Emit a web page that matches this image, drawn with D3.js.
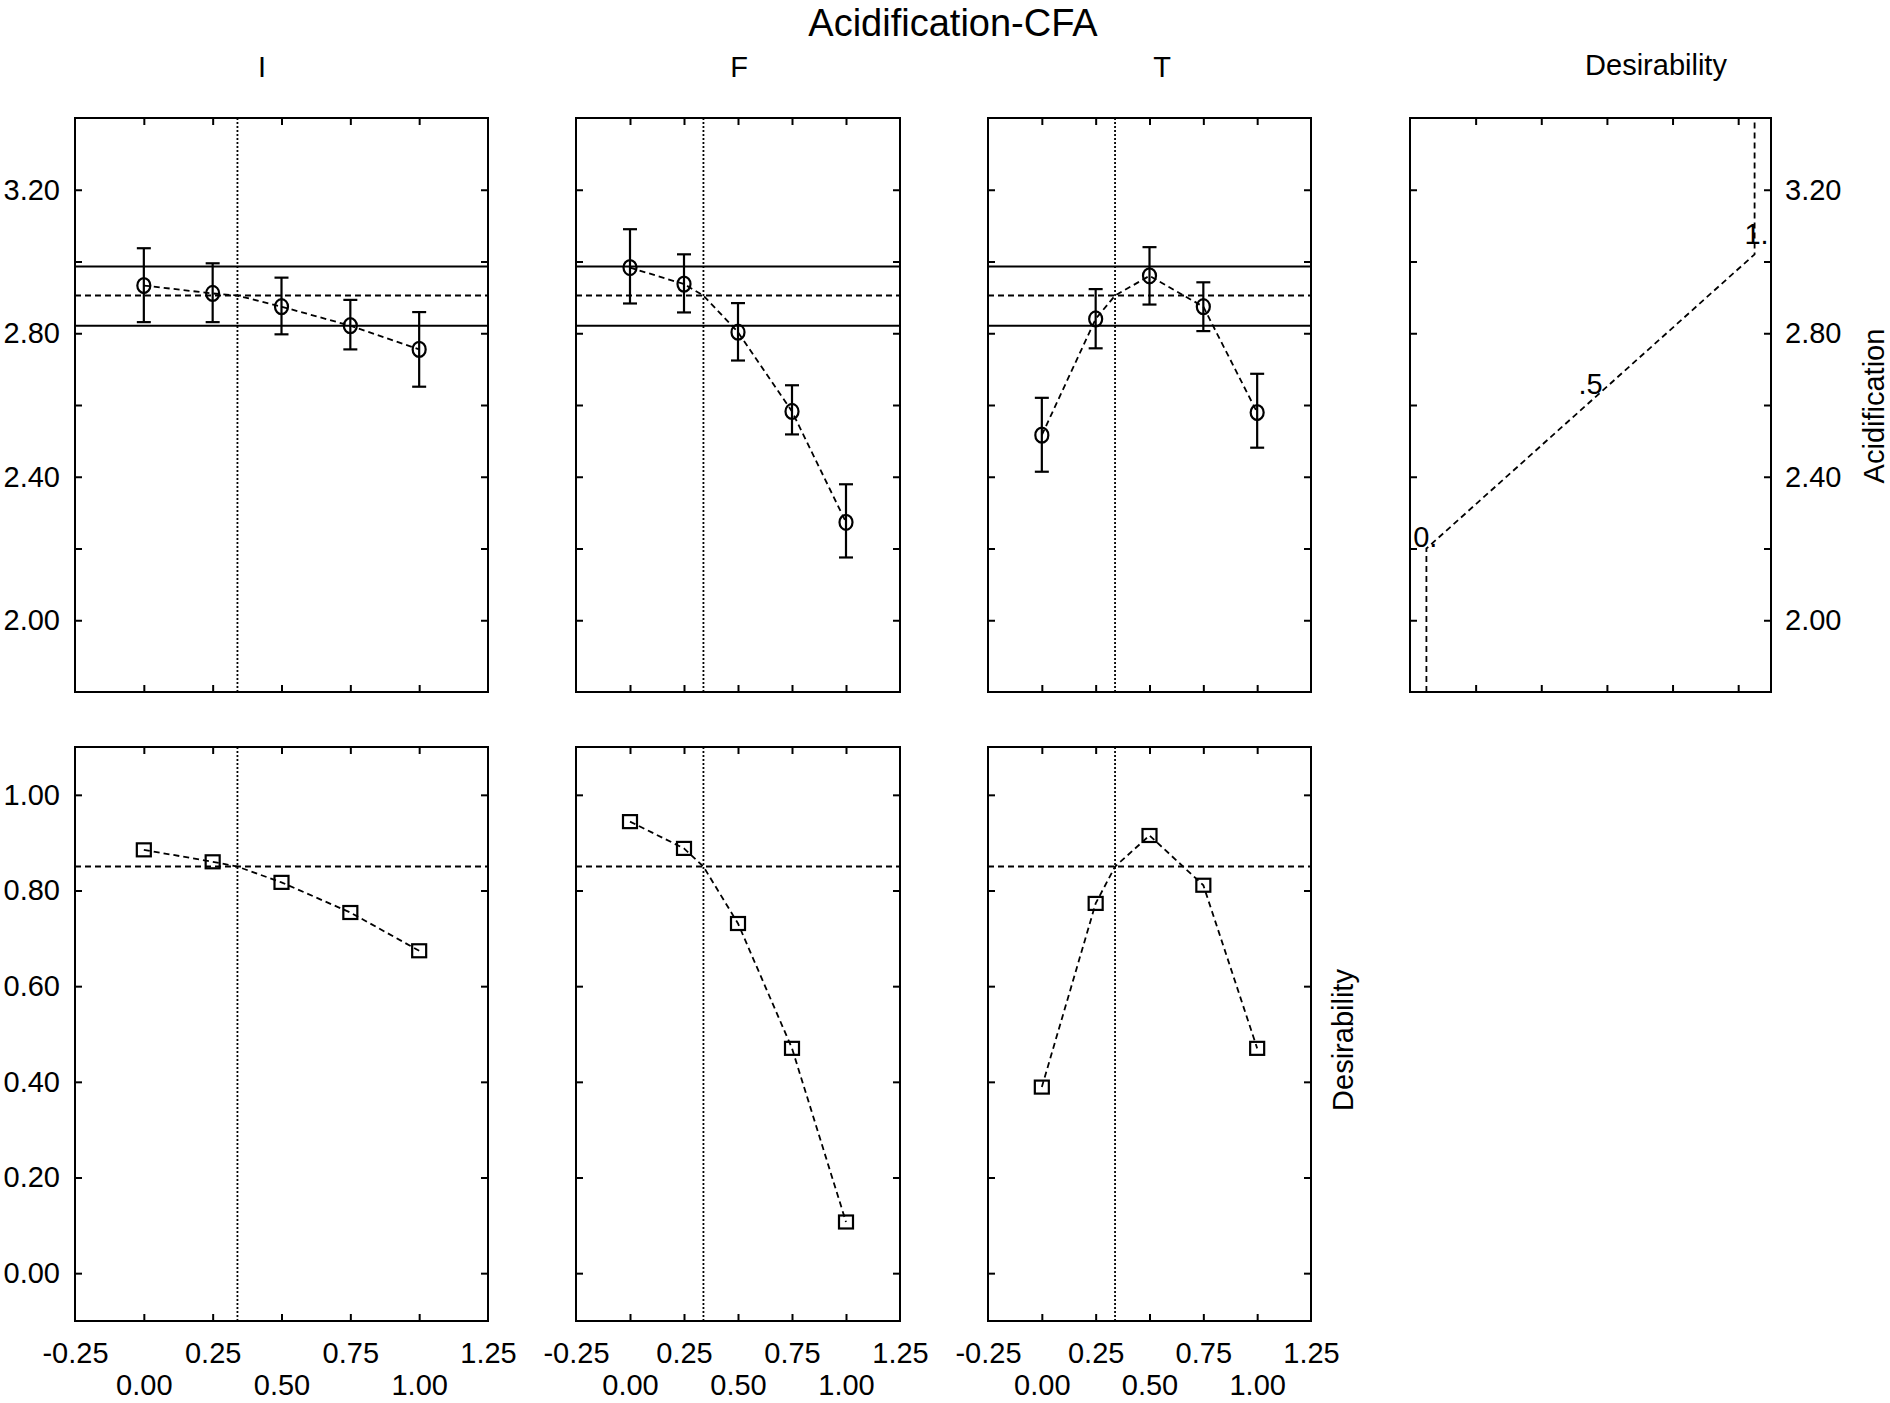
<!DOCTYPE html>
<html>
<head>
<meta charset="utf-8">
<script src="https://cdn.jsdelivr.net/npm/d3@7"></script>
<style>
  body { margin: 0; background: #fff; }
  text { font-family: "Liberation Sans", Arial, sans-serif; fill: #000; }
</style>
</head>
<body>
<script>
// factor levels and current setting
const factors = ["I", "F", "T"];
const levels = [0, 0.25, 0.5, 0.75, 1];
const currentLevel = 0.34;

// predicted acidification with confidence limits, per factor
const acidI = [2.933, 2.911, 2.874, 2.821, 2.755];
const acidIHi = [3.037, 2.995, 2.955, 2.893, 2.859];
const acidILo = [2.831, 2.831, 2.797, 2.755, 2.651];
const acidF = [2.983, 2.937, 2.803, 2.582, 2.273];
const acidFHi = [3.090, 3.020, 2.884, 2.655, 2.379];
const acidFLo = [2.883, 2.858, 2.724, 2.518, 2.175];
const acidT = [2.516, 2.840, 2.960, 2.874, 2.579];
const acidTHi = [2.620, 2.923, 3.040, 2.942, 2.687];
const acidTLo = [2.414, 2.758, 2.880, 2.806, 2.481];

// current prediction and its interval
const currentAcid = 2.905;
const currentAcidLo = 2.821;
const currentAcidHi = 2.986;

// desirability per factor
const desI = [0.885, 0.860, 0.817, 0.754, 0.674];
const desF = [0.944, 0.888, 0.731, 0.470, 0.107];
const desT = [0.389, 0.773, 0.915, 0.811, 0.470];
const currentDes = 0.85;

// desirability function for acidification
const desFnAcid = [1.80, 2.20, 3.02, 3.40];
const desFnVal = [0, 0, 1, 1];
const desFnLabelVals = [0, 0.5, 1];
const desFnLabels = ["0.", ".5", "1."];

// ticks
const acidTicks = [2.0, 2.2, 2.4, 2.6, 2.8, 3.0, 3.2];
const acidTickLabels = [2.0, 2.4, 2.8, 3.2];
const desTicks = [0, 0.2, 0.4, 0.6, 0.8, 1.0];
const levelTicks = [0, 0.25, 0.5, 0.75, 1];
const xLabelsUpper = [-0.25, 0.25, 0.75, 1.25];
const xLabelsLower = [0, 0.5, 1];
const desFnTicks = [0.15, 0.35, 0.55, 0.75, 0.95];

const acidSeries = [acidI, acidF, acidT];
const acidHiSeries = [acidIHi, acidFHi, acidTHi];
const acidLoSeries = [acidILo, acidFLo, acidTLo];
const desSeries = [desI, desF, desT];

const W = 1890, H = 1403;
const svg = d3.select("body").append("svg").attr("width", W).attr("height", H);

const colX = [[75, 488], [576, 900], [988, 1311]];
const row1 = [692, 118], row2 = [1321, 747];

const xScales = colX.map(c => d3.scaleLinear().domain([-0.25, 1.25]).range(c));
const yAcid = d3.scaleLinear().domain([1.8, 3.4]).range(row1);
const yDes = d3.scaleLinear().domain([-0.1, 1.1]).range(row2);
const xDesFn = d3.scaleLinear().domain([-0.05, 1.05]).range([1410, 1771]);

const fmt = d => d.toFixed(2);
const FS = 29;

function styleAxis(g, labels) {
  g.select(".domain").remove();
  g.selectAll(".tick line").attr("stroke", "#000").attr("stroke-width", 2);
  g.selectAll("text").attr("font-size", FS).attr("font-family", "Liberation Sans, Arial, sans-serif");
  if (!labels) g.selectAll("text").remove();
}

// draw frame with inner ticks on all four sides
function panel(x, y, xt, yt) {
  const [x0, x1] = x.range();
  const [y1, y0] = y.range();
  svg.append("g").attr("transform", `translate(0,${y0})`)
    .call(d3.axisTop(x).tickValues(xt).tickSize(-7)).call(g => styleAxis(g, false));
  svg.append("g").attr("transform", `translate(0,${y1})`)
    .call(d3.axisBottom(x).tickValues(xt).tickSize(-7)).call(g => styleAxis(g, false));
  svg.append("g").attr("transform", `translate(${x0},0)`)
    .call(d3.axisLeft(y).tickValues(yt).tickSize(-7)).call(g => styleAxis(g, false));
  svg.append("g").attr("transform", `translate(${x1},0)`)
    .call(d3.axisRight(y).tickValues(yt).tickSize(-7)).call(g => styleAxis(g, false));
  svg.append("rect")
    .attr("x", x0).attr("y", y0).attr("width", x1 - x0).attr("height", y1 - y0)
    .attr("fill", "none").attr("stroke", "#000").attr("stroke-width", 2);
}

function hline(x, y, v, dash, w) {
  svg.append("line")
    .attr("x1", x.range()[0]).attr("x2", x.range()[1])
    .attr("y1", y(v)).attr("y2", y(v))
    .attr("stroke", "#000").attr("stroke-width", w)
    .attr("stroke-dasharray", dash);
}
function vline(x, y, v) {
  svg.append("line")
    .attr("x1", x(v)).attr("x2", x(v))
    .attr("y1", y.range()[0]).attr("y2", y.range()[1])
    .attr("stroke", "#000").attr("stroke-width", 1.8)
    .attr("stroke-dasharray", "2,2");
}

// profile points including the current setting
function profile(vals, cur) {
  const pts = levels.map((l, i) => [l, vals[i]]);
  pts.splice(2, 0, [currentLevel, cur]);
  return pts;
}

factors.forEach((f, k) => {
  const x = xScales[k];

  // ---- row 1: acidification
  panel(x, yAcid, levelTicks, acidTicks);
  hline(x, yAcid, currentAcidHi, null, 2);
  hline(x, yAcid, currentAcidLo, null, 2);
  hline(x, yAcid, currentAcid, "6,4", 2);
  vline(x, yAcid, currentLevel);

  const line1 = d3.line().x(d => x(d[0])).y(d => yAcid(d[1]));
  svg.append("path").datum(profile(acidSeries[k], currentAcid))
    .attr("d", line1).attr("fill", "none").attr("stroke", "#000")
    .attr("stroke-width", 1.8).attr("stroke-dasharray", "6,4");

  const g1 = svg.append("g");
  levels.forEach((l, i) => {
    const cx = x(l);
    const hi = yAcid(acidHiSeries[k][i]), lo = yAcid(acidLoSeries[k][i]);
    g1.append("line").attr("x1", cx).attr("x2", cx).attr("y1", hi).attr("y2", lo);
    g1.append("line").attr("x1", cx - 7).attr("x2", cx + 7).attr("y1", hi).attr("y2", hi);
    g1.append("line").attr("x1", cx - 7).attr("x2", cx + 7).attr("y1", lo).attr("y2", lo);
  });
  g1.selectAll("line").attr("stroke", "#000").attr("stroke-width", 2.2);
  svg.append("g").selectAll("ellipse").data(levels).enter().append("ellipse")
    .attr("cx", l => x(l))
    .attr("cy", (l, i) => yAcid(acidSeries[k][i]))
    .attr("rx", 6.5).attr("ry", 7.5)
    .attr("fill", "none").attr("stroke", "#000").attr("stroke-width", 2.2);

  // ---- row 2: desirability
  panel(x, yDes, levelTicks, desTicks);
  hline(x, yDes, currentDes, "6,4", 2);
  vline(x, yDes, currentLevel);

  const line2 = d3.line().x(d => x(d[0])).y(d => yDes(d[1]));
  svg.append("path").datum(profile(desSeries[k], currentDes))
    .attr("d", line2).attr("fill", "none").attr("stroke", "#000")
    .attr("stroke-width", 1.8).attr("stroke-dasharray", "6,4");
  svg.append("g").selectAll("rect").data(levels).enter().append("rect")
    .attr("x", l => x(l) - 7)
    .attr("y", (l, i) => yDes(desSeries[k][i]) - 6.5)
    .attr("width", 14).attr("height", 13)
    .attr("fill", "none").attr("stroke", "#000").attr("stroke-width", 2.2);

  // x labels, staggered in two rows
  svg.append("g").attr("transform", `translate(0,${row2[0]})`)
    .call(d3.axisBottom(x).tickValues(xLabelsUpper).tickSize(0).tickPadding(21).tickFormat(fmt))
    .call(g => styleAxis(g, true));
  svg.append("g").attr("transform", `translate(0,${row2[0]})`)
    .call(d3.axisBottom(x).tickValues(xLabelsLower).tickSize(0).tickPadding(53).tickFormat(fmt))
    .call(g => styleAxis(g, true));
});

// y labels on the left
svg.append("g").attr("transform", `translate(${colX[0][0]},0)`)
  .call(d3.axisLeft(yAcid).tickValues(acidTickLabels).tickSize(0).tickPadding(15).tickFormat(fmt))
  .call(g => styleAxis(g, true));
svg.append("g").attr("transform", `translate(${colX[0][0]},0)`)
  .call(d3.axisLeft(yDes).tickValues(desTicks).tickSize(0).tickPadding(15).tickFormat(fmt))
  .call(g => styleAxis(g, true));

// ---- desirability function panel
panel(xDesFn, yAcid, desFnTicks, acidTicks);
svg.append("g").attr("transform", `translate(${xDesFn.range()[1]},0)`)
  .call(d3.axisRight(yAcid).tickValues(acidTickLabels).tickSize(0).tickPadding(14).tickFormat(fmt))
  .call(g => styleAxis(g, true));

const fnLine = d3.line().x(d => xDesFn(d[1])).y(d => yAcid(d[0]));
svg.append("path").datum(desFnAcid.map((a, i) => [a, desFnVal[i]]))
  .attr("d", fnLine).attr("fill", "none").attr("stroke", "#000")
  .attr("stroke-width", 1.8).attr("stroke-dasharray", "6,4");

const desToAcid = d3.scaleLinear().domain([desFnVal[1], desFnVal[2]]).range([desFnAcid[1], desFnAcid[2]]);
const lblOff = [[11, -2, "end"], [0, -7, "middle"], [2, -10, "middle"]];
svg.append("g").selectAll("text").data(desFnLabelVals).enter().append("text")
  .attr("x", (d, i) => xDesFn(d) + lblOff[i][0])
  .attr("y", (d, i) => yAcid(desToAcid(d)) + lblOff[i][1])
  .attr("text-anchor", (d, i) => lblOff[i][2])
  .attr("font-size", FS)
  .text((d, i) => desFnLabels[i]);

// ---- titles
svg.append("text").attr("x", 953).attr("y", 36).attr("text-anchor", "middle")
  .attr("font-size", 38).text("Acidification-CFA");
const colTitleX = [262, 739, 1162];
factors.forEach((f, k) => {
  svg.append("text").attr("x", colTitleX[k]).attr("y", 77).attr("text-anchor", "middle")
    .attr("font-size", FS).text(f);
});
svg.append("text").attr("x", 1656).attr("y", 75).attr("text-anchor", "middle")
  .attr("font-size", FS).text("Desirability");

svg.append("text").attr("transform", "translate(1884,406) rotate(-90)")
  .attr("text-anchor", "middle").attr("font-size", FS).text("Acidification");
svg.append("text").attr("transform", "translate(1353,1040) rotate(-90)")
  .attr("text-anchor", "middle").attr("font-size", FS).text("Desirability");
</script>
</body>
</html>
